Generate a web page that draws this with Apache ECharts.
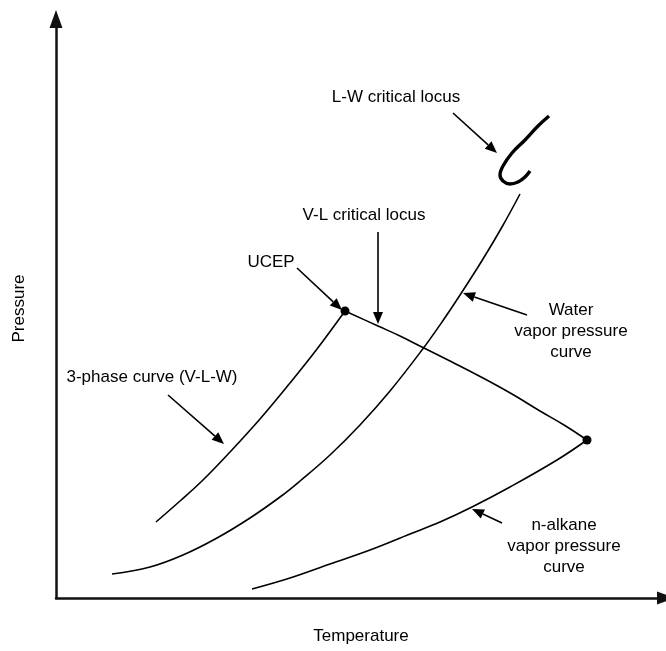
<!DOCTYPE html>
<html>
<head>
<meta charset="utf-8">
<script src="https://cdn.jsdelivr.net/npm/echarts@6/dist/echarts.min.js"></script>
<style>
  html, body { margin: 0; padding: 0; background: #fff; }
  #chart { width: 666px; height: 651px; }
</style>
</head>
<body>
<div id="chart"></div>
<script>
// Schematic P-T phase diagram of an n-alkane / water system (arbitrary units).
// Each curve is a list of [temperature, pressure] pairs.
const threePhaseCurve = [[100,76],[124,97],[147,118],[174,146],[204,179],[234,215],[261,249],[289,287]];
const waterVaporCurve = [[56,24],[94,31],[127,43],[161,60],[194,80],[224,101],[244,117],[274,143],[304,173],[334,207],[366,248],[386,276],[406,306],[427,339],[446,371],[464,404]];
const vlCriticalLocus = [[289,287],[322,272],[344,262],[366,251],[396,236],[427,220],[456,204],[484,187],[508,173],[531,158]];
const alkaneVaporCurve = [[196,9],[234,20],[274,34],[314,48],[354,64],[384,76],[416,91],[454,111],[501,138],[531,158]];
const lwCriticalLocus = [[493,482],[482,472],[469,458],[456,445],[447,432],[444,423],[447,417],[454,414],[462,416],[469,421],[474,427]];
const criticalPoints = [[289,287],[531,158]];

// Pointer arrows: [fromT, fromP, toT, toP]
const pointerArrows = [
  [397,485,441,445],
  [322,366,322,274],
  [241,330,286,288],
  [471,283,407,305],
  [446,75,416,89],
  [112,203,168,154]
];

const FONT = '"Liberation Sans", Arial, sans-serif';
const chart = echarts.init(document.getElementById('chart'), null, { renderer: 'canvas' });

function curve(data, width) {
  return {
    type: 'line', data: data, smooth: 0.4, showSymbol: false, silent: true,
    lineStyle: { color: '#000', width: width }, z: 3
  };
}

function label(text, x, y) {
  return {
    type: 'text', x: x, y: y,
    style: { text: text, fill: '#000', font: '17px ' + FONT, align: 'center', verticalAlign: 'middle', lineHeight: 21 }
  };
}

const option = {
  animation: false,
  backgroundColor: '#fff',
  grid: { left: 56, right: 0, top: 19, bottom: 53, containLabel: false, outerBoundsMode: 'none' },
  xAxis: {
    type: 'value', min: 0, max: 610,
    name: 'Temperature', nameLocation: 'middle', nameGap: 30,
    nameTextStyle: { color: '#000', fontSize: 17, fontFamily: FONT },
    axisLine: { show: true, onZero: false, symbol: ['none', 'triangle'], symbolSize: [13, 18], lineStyle: { color: '#111', width: 2.5 } },
    axisTick: { show: false }, axisLabel: { show: false }, splitLine: { show: false }
  },
  yAxis: {
    type: 'value', min: 0, max: 579,
    name: 'Pressure', nameLocation: 'middle', nameGap: 28, nameRotate: 90,
    nameTextStyle: { color: '#000', fontSize: 17, fontFamily: FONT },
    axisLine: { show: true, onZero: false, symbol: ['none', 'triangle'], symbolSize: [13, 18], lineStyle: { color: '#111', width: 2.5 } },
    axisTick: { show: false }, axisLabel: { show: false }, splitLine: { show: false }
  },
  series: [
    curve(threePhaseCurve, 1.6),
    curve(waterVaporCurve, 1.6),
    curve(vlCriticalLocus, 1.6),
    curve(alkaneVaporCurve, 1.6),
    curve(lwCriticalLocus, 3.4),
    {
      type: 'scatter', data: criticalPoints, symbol: 'circle', symbolSize: 9,
      itemStyle: { color: '#000', opacity: 1 }, silent: true, z: 5
    },
    {
      type: 'custom', data: pointerArrows, silent: true, z: 6,
      renderItem: function (params, api) {
        const a = api.coord([api.value(0), api.value(1)]);
        const b = api.coord([api.value(2), api.value(3)]);
        const dx = b[0] - a[0], dy = b[1] - a[1];
        const len = Math.sqrt(dx * dx + dy * dy);
        const ux = dx / len, uy = dy / len;
        const headLen = 12, headHalf = 5;
        const bx = b[0] - ux * headLen, by = b[1] - uy * headLen;
        return {
          type: 'group',
          children: [
            { type: 'line', shape: { x1: a[0], y1: a[1], x2: bx, y2: by }, style: { stroke: '#000', lineWidth: 1.6 } },
            { type: 'polygon', shape: { points: [[b[0], b[1]], [bx - uy * headHalf, by + ux * headHalf], [bx + uy * headHalf, by - ux * headHalf]] }, style: { fill: '#000' } }
          ]
        };
      }
    }
  ],
  graphic: [
    label('L-W critical locus', 396, 97),
    label('V-L critical locus', 364, 215),
    label('UCEP', 271, 262),
    label('Water\nvapor pressure\ncurve', 571, 331),
    label('n-alkane\nvapor pressure\ncurve', 564, 546),
    label('3-phase curve (V-L-W)', 152, 377)
  ]
};

chart.setOption(option);
</script>
</body>
</html>
